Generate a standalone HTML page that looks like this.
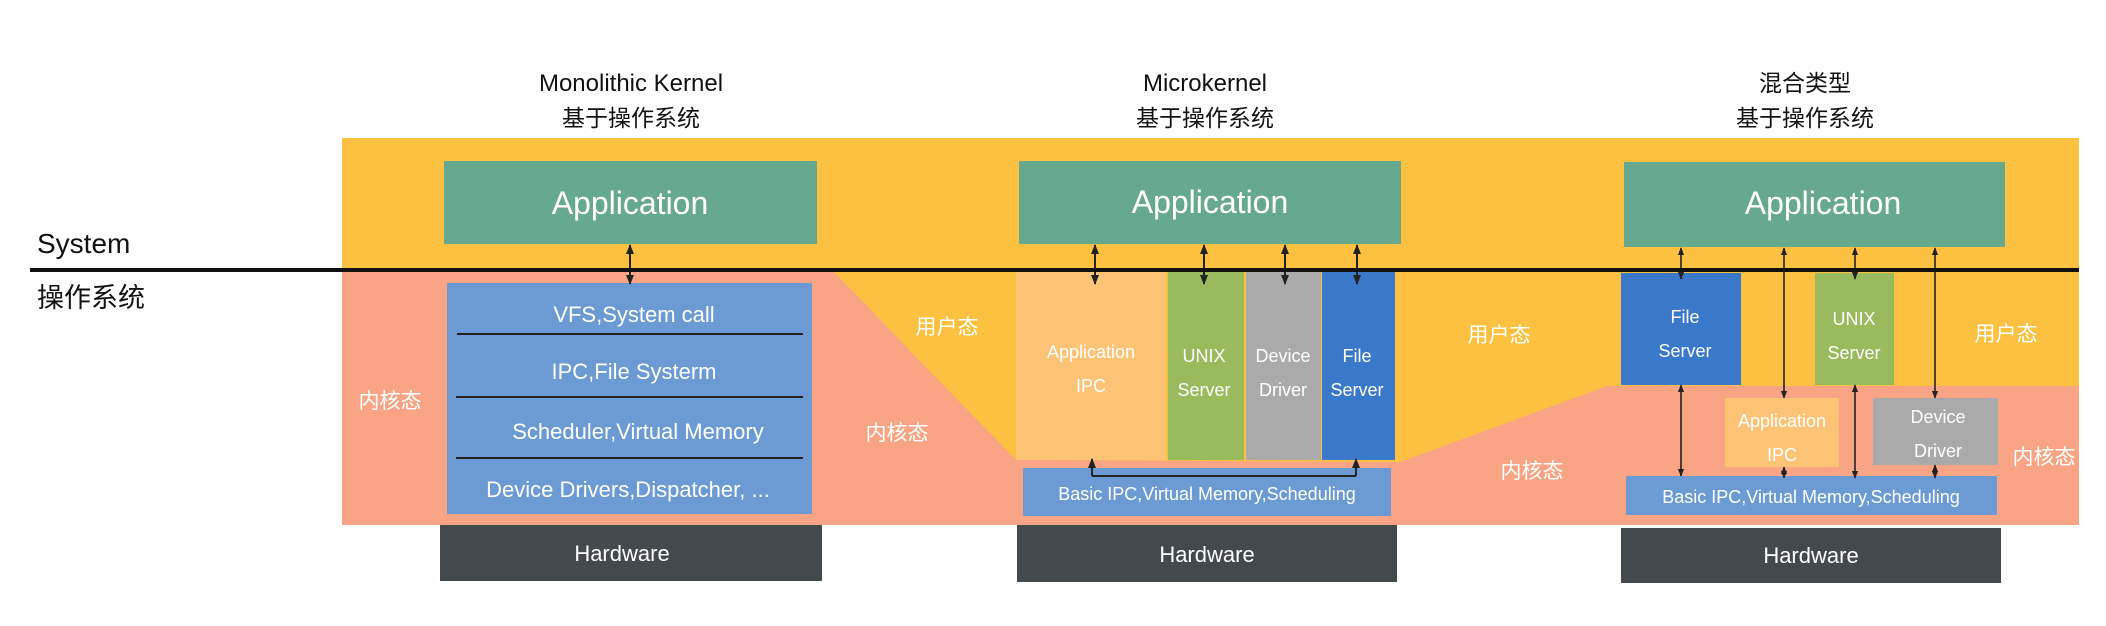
<!DOCTYPE html>
<html><head><meta charset="utf-8"><style>
html,body{margin:0;padding:0;background:#fff;}
svg{display:block;}
text{font-family:"Liberation Sans","Noto Sans CJK SC",sans-serif;}
</style></head><body>
<svg width="2106" height="626" viewBox="0 0 2106 626" xmlns="http://www.w3.org/2000/svg">
<defs>
<marker id="a" viewBox="0 0 10 10" refX="9" refY="5" markerWidth="5" markerHeight="5" orient="auto-start-reverse"><path d="M0,1 L10,5 L0,9 z" fill="#222"/></marker>
</defs>
<rect x="342" y="138" width="1737" height="133" fill="#fdc142"/>
<rect x="342" y="271" width="1737" height="254" fill="#f9a585"/>
<polygon points="833,271 1400,271 1400,462 1607,386 2079,386 2079,271 1400,271 1400,462 1016,460" fill="#fdc142"/>
<g fill="#111" text-anchor="middle">
<text x="631" y="91" font-size="24">Monolithic Kernel</text>
<text x="631" y="126" font-size="23">基于操作系统</text>
<text x="1205" y="91" font-size="24">Microkernel</text>
<text x="1205" y="126" font-size="23">基于操作系统</text>
<text x="1805" y="91" font-size="23">混合类型</text>
<text x="1805" y="126" font-size="23">基于操作系统</text>
</g>
<text x="37" y="253" font-size="28" fill="#111">System</text>
<text x="37" y="307" font-size="27" fill="#111">操作系统</text>
<rect x="444" y="161" width="373" height="83" fill="#67a98f"/>
<text x="630" y="214" font-size="32" fill="#fff" text-anchor="middle">Application</text>
<rect x="447" y="283" width="365" height="231" fill="#6b9bd2"/>
<g stroke="#222" stroke-width="2"><line x1="457" y1="334" x2="803" y2="334"/><line x1="456" y1="397" x2="803" y2="397"/><line x1="456" y1="458" x2="803" y2="458"/></g>
<g fill="#fff" font-size="22" text-anchor="middle">
<text x="634" y="322">VFS,System call</text>
<text x="634" y="379">IPC,File Systerm</text>
<text x="638" y="439">Scheduler,Virtual Memory</text>
<text x="628" y="497">Device Drivers,Dispatcher, ...</text>
</g>
<text x="390" y="408" font-size="21" fill="#fff" text-anchor="middle">内核态</text>
<rect x="440" y="525" width="382" height="56" fill="#434a4d"/>
<text x="622" y="561" font-size="22" fill="#fff" text-anchor="middle">Hardware</text>
<text x="947" y="334" font-size="21" fill="#fff" text-anchor="middle">用户态</text>
<text x="897" y="440" font-size="21" fill="#fff" text-anchor="middle">内核态</text>
<rect x="1019" y="161" width="382" height="83" fill="#67a98f"/>
<text x="1210" y="213" font-size="32" fill="#fff" text-anchor="middle">Application</text>
<rect x="1016" y="272" width="150" height="188" fill="#fdc478"/>
<rect x="1168" y="272" width="76" height="188" fill="#9aba5e"/>
<rect x="1246" y="272" width="75" height="188" fill="#aaaaaa"/>
<rect x="1322" y="272" width="73" height="188" fill="#3a79c9"/>
<g fill="#fff" font-size="18" text-anchor="middle">
<text x="1091" y="358">Application</text><text x="1091" y="392">IPC</text>
<text x="1204" y="362">UNIX</text><text x="1204" y="396">Server</text>
<text x="1283" y="362">Device</text><text x="1283" y="396">Driver</text>
<text x="1357" y="362">File</text><text x="1357" y="396">Server</text>
</g>
<rect x="1023" y="468" width="368" height="48" fill="#6b9bd2"/>
<text x="1207" y="500" font-size="18" fill="#fff" text-anchor="middle">Basic IPC,Virtual Memory,Scheduling</text>
<path d="M1092,476 L1356,476" stroke="#222" stroke-width="2" fill="none"/>
<line x1="1092" y1="476" x2="1092" y2="459" stroke="#222" stroke-width="2" marker-end="url(#a)"/>
<line x1="1356" y1="476" x2="1356" y2="459" stroke="#222" stroke-width="2" marker-end="url(#a)"/>
<rect x="1017" y="525" width="380" height="57" fill="#434a4d"/>
<text x="1207" y="562" font-size="22" fill="#fff" text-anchor="middle">Hardware</text>
<g stroke="#222" stroke-width="2" marker-start="url(#a)" marker-end="url(#a)">
<line x1="1095" y1="245" x2="1095" y2="284"/>
<line x1="1204" y1="245" x2="1204" y2="284"/>
<line x1="1285" y1="245" x2="1285" y2="284"/>
<line x1="1357" y1="245" x2="1357" y2="284"/>
<line x1="630" y1="245" x2="630" y2="284"/>
</g>
<text x="1499" y="342" font-size="21" fill="#fff" text-anchor="middle">用户态</text>
<text x="1532" y="478" font-size="21" fill="#fff" text-anchor="middle">内核态</text>
<rect x="1624" y="162" width="381" height="85" fill="#67a98f"/>
<text x="1823" y="214" font-size="32" fill="#fff" text-anchor="middle">Application</text>
<rect x="1621" y="273" width="120" height="112" fill="#3a79c9"/>
<rect x="1815" y="273" width="79" height="112" fill="#9aba5e"/>
<rect x="1725" y="398" width="114" height="69" fill="#fdc478"/>
<rect x="1873" y="398" width="125" height="67" fill="#aaaaaa"/>
<rect x="1626" y="476" width="371" height="39" fill="#6b9bd2"/>
<g fill="#fff" font-size="18" text-anchor="middle">
<text x="1685" y="323">File</text><text x="1685" y="357">Server</text>
<text x="1854" y="325">UNIX</text><text x="1854" y="359">Server</text>
<text x="1782" y="427">Application</text><text x="1782" y="461">IPC</text>
<text x="1938" y="423">Device</text><text x="1938" y="457">Driver</text>
<text x="1811" y="503">Basic IPC,Virtual Memory,Scheduling</text>
</g>
<text x="2006" y="341" font-size="21" fill="#fff" text-anchor="middle">用户态</text>
<text x="2044" y="464" font-size="21" fill="#fff" text-anchor="middle">内核态</text>
<g stroke="#222" stroke-width="1.6" marker-start="url(#a)" marker-end="url(#a)">
<line x1="1681" y1="248" x2="1681" y2="279"/>
<line x1="1681" y1="385" x2="1681" y2="476"/>
<line x1="1784" y1="248" x2="1784" y2="398"/>
<line x1="1784" y1="467" x2="1784" y2="478"/>
<line x1="1855" y1="248" x2="1855" y2="279"/>
<line x1="1855" y1="385" x2="1855" y2="478"/>
<line x1="1935" y1="248" x2="1935" y2="398"/>
<line x1="1935" y1="465" x2="1935" y2="478"/>
</g>
<rect x="1621" y="528" width="380" height="55" fill="#434a4d"/>
<text x="1811" y="563" font-size="22" fill="#fff" text-anchor="middle">Hardware</text>
<rect x="30" y="268" width="2049" height="4" fill="#111"/>
</svg>
</body></html>
